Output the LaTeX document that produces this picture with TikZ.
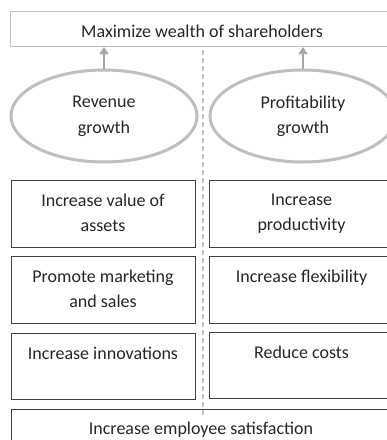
\documentclass[tikz,border=0pt]{standalone}
\usepackage{fontspec}
\setmainfont{Carlito}
\usetikzlibrary{arrows.meta,shapes.geometric,positioning}
\definecolor{boxline}{HTML}{404040}
\definecolor{softline}{HTML}{BFBFBF}
\definecolor{arrowgray}{HTML}{A6A6A6}
\definecolor{inktext}{HTML}{262626}
\tikzset{
  every node/.style={font=\fontsize{18}{25.5}\selectfont, text=inktext},
  goalbox/.style={draw=softline, line width=0.8pt, minimum width=384pt, minimum height=35.7pt, inner sep=0pt},
  driver/.style={draw=softline, line width=3pt, ellipse, minimum width=186pt, minimum height=92pt, inner sep=0pt},
  levbox/.style={draw=boxline, line width=0.8pt, minimum width=184pt, minimum height=66.5pt, inner sep=0pt},
  widebox/.style={draw=boxline, line width=0.8pt, minimum width=384pt, minimum height=40pt, inner sep=0pt},
  boxtext/.style={anchor=north, align=center, inner sep=0pt},
  uparrow/.style={draw=arrowgray, line width=1.5pt, -{Triangle[length=7pt,width=9pt]}},
  divider/.style={draw=softline, line width=1.5pt, dash pattern=on 5pt off 3pt}
}
\begin{document}
\begin{tikzpicture}[x=1pt,y=-1pt]
\useasboundingbox (0,0) rectangle (387,440);
\clip (0,0) rectangle (387,440);
% goal at the top
\node[goalbox] (goal) at (202,28.8) {};
\node[inner sep=0pt] (goalt) at (202,31.5) {Maximize wealth of shareholders};
% the two growth drivers
\node[driver] (rev) at (104,116) {};
\node[align=center, inner sep=0pt] (revt) at (104,116.5) {Revenue\\growth};
\node[driver] (prof) at (303,116) {};
\node[align=center, inner sep=0pt] (proft) at (303,116.5) {Profitability\\growth};
\draw[uparrow] (rev.north) -- (rev.north |- goal.south);
\draw[uparrow] (prof.north) -- (prof.north |- goal.south);
% dashed divider between the two columns
\coordinate (dtop) at (203,50);
\coordinate (dbot) at (203,416);
\draw[divider] (dtop) -- (dbot);
% value levers, left column
\node[levbox] (l1) at (103,213.8) {};
\node[boxtext] (l1t) at ([yshift=-13.5pt]l1.north) {Increase value of\\assets};
\node[levbox] (l2) at (103,289.8) {};
\node[boxtext] (l2t) at ([yshift=-13.5pt]l2.north) {Promote marketing\\and sales};
\node[levbox] (l3) at (103,366.5) {};
\node[boxtext] (l3t) at ([yshift=-13.5pt]l3.north) {Increase innovations};
% value levers, right column
\node[levbox] (r1) at (301.5,213.8) {};
\node[boxtext] (r1t) at ([yshift=-13.5pt]r1.north) {Increase\\productivity};
\node[levbox] (r2) at (301.5,289.8) {};
\node[boxtext] (r2t) at ([yshift=-13.5pt]r2.north) {Increase flexibility};
\node[levbox] (r3) at (301.5,365.5) {};
\node[boxtext] (r3t) at ([yshift=-13.5pt]r3.north) {Reduce costs};
% foundation
\node[widebox] (base) at (203,429) {};
\node[inner sep=0pt] (baset) at (201,430) {Increase employee satisfaction};
\end{tikzpicture}
\end{document}
